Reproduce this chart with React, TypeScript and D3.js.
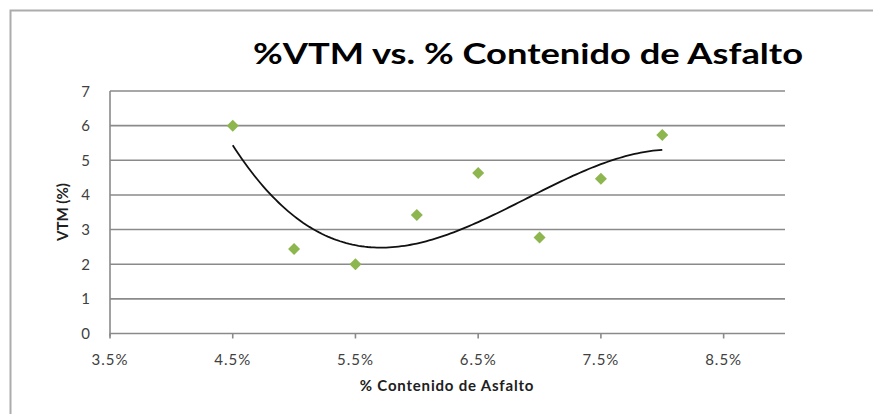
import React from 'react';
import * as d3 from 'd3';

const asphaltContent = [4.5, 5.0, 5.5, 6.0, 6.5, 7.0, 7.5, 8.0];
const vtmValues = [6.0, 2.44, 2.0, 3.42, 4.63, 2.77, 4.47, 5.73];
const xTicks = [3.5, 4.5, 5.5, 6.5, 7.5, 8.5];
const yTicks = [0, 1, 2, 3, 4, 5, 6, 7];
const titleText = '%VTM vs. % Contenido de Asfalto';
const xAxisTitle = '% Contenido de Asfalto';
const yAxisTitle = 'VTM (%)';

// Least-squares polynomial (order 3) trendline, as Excel computes it
function polyFit(xs: number[], ys: number[], order: number): number[] {
  const n = order + 1;
  const A: number[][] = [];
  for (let i = 0; i < n; i++) {
    const row: number[] = [];
    for (let j = 0; j < n; j++) row.push(d3.sum(xs, (x) => Math.pow(x, i + j)));
    row.push(d3.sum(xs, (x, k) => Math.pow(x, i) * ys[k]));
    A.push(row);
  }
  for (let c = 0; c < n; c++) {
    let p = c;
    for (let r = c + 1; r < n; r++) if (Math.abs(A[r][c]) > Math.abs(A[p][c])) p = r;
    [A[c], A[p]] = [A[p], A[c]];
    for (let r = 0; r < n; r++) {
      if (r === c) continue;
      const f = A[r][c] / A[c][c];
      for (let k = c; k <= n; k++) A[r][k] -= f * A[c][k];
    }
  }
  return A.map((row, i) => row[n] / row[i]);
}

export default function App() {
  const width = 873;
  const height = 414;
  const left = 110;
  const right = 785;
  const top = 91;
  const bottom = 333.5;

  const x = d3.scaleLinear().domain([3.5, 9]).range([left, right]);
  const y = d3.scaleLinear().domain([0, 7]).range([bottom, top]);

  const coef = polyFit(asphaltContent, vtmValues, 3);
  const trendX = d3.range(0, 141).map((i) => 4.5 + (3.5 * i) / 140);
  const trendLine = d3
    .line<number>()
    .x((v) => x(v))
    .y((v) => y(coef.reduce((s, c, i) => s + c * Math.pow(v, i), 0)))
    .curve(d3.curveLinear)(trendX);

  const diamond = d3.symbol().type(d3.symbolSquare).size(72)();

  const font = 'Lato, Calibri, "Open Sans", sans-serif';

  return (
    <svg
      width={width}
      height={height}
      style={{ position: 'absolute', left: 0, top: 0, background: '#fff' }}
    >
      <rect x={10.5} y={10.5} width={900} height={500} fill="#fff" stroke="#acacac" strokeWidth={2} />
      <text
        x={528}
        y={64}
        textAnchor="middle"
        fontFamily={font}
        fontWeight={700}
        fontSize={29}
        fill="#000"
        textLength={550}
        lengthAdjust="spacingAndGlyphs"
      >
        {titleText}
      </text>

      {yTicks.map((t) => (
        <line key={'g' + t} x1={left} x2={right} y1={y(t)} y2={y(t)} stroke="#8a8a8a" strokeWidth={1.6} />
      ))}
      <line x1={left} x2={left} y1={top} y2={bottom + 3} stroke="#8a8a8a" strokeWidth={1.6} />
      {xTicks.map((t) => (
        <line key={'xt' + t} x1={x(t)} x2={x(t)} y1={bottom} y2={bottom + 5} stroke="#8a8a8a" strokeWidth={1.6} />
      ))}

      {yTicks.map((t) => (
        <text key={'yl' + t} x={90} y={y(t) + 5.5} textAnchor="end" fontFamily={font} fontSize={15} fill="#404040">
          {t}
        </text>
      ))}
      {xTicks.map((t) => (
        <text
          key={'xl' + t}
          x={x(t)}
          y={365}
          textAnchor="middle"
          fontFamily={font}
          fontSize={15}
          letterSpacing={1}
          fill="#404040"
        >
          {t.toFixed(1) + '%'}
        </text>
      ))}

      <text
        x={447}
        y={391}
        textAnchor="middle"
        fontFamily={font}
        fontWeight={700}
        fontSize={15}
        letterSpacing={0.8}
        fill="#202020"
      >
        {xAxisTitle}
      </text>
      <text
        transform={`translate(68, 212) rotate(-90)`}
        textAnchor="middle"
        fontFamily={font}
        fontWeight={700}
        fontSize={15}
        fill="#202020"
      >
        {yAxisTitle}
      </text>

      <path d={trendLine || ''} fill="none" stroke="#111" strokeWidth={1.8} />

      {asphaltContent.map((v, i) => (
        <path
          key={'p' + i}
          d={diamond || ''}
          transform={`translate(${x(v)}, ${y(vtmValues[i])}) rotate(45)`}
          fill="#8DB64F"
        />
      ))}
    </svg>
  );
}
